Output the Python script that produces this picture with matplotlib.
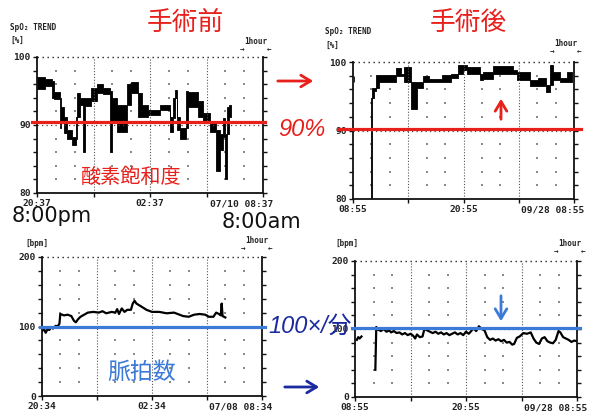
import numpy as np
import matplotlib
matplotlib.use("Agg")
import matplotlib.pyplot as plt
from matplotlib.patches import FancyArrowPatch
from matplotlib.transforms import ScaledTranslation

# ---------------- data ----------------
# SpO2 before surgery (hours from 20:37), per-interval high / low envelope (%)
pre_spo2_edges = [0, 0.42, 0.8, 0.92, 1.2, 1.28, 1.42, 1.6, 1.87, 2.05, 2.14, 2.3, 2.45,
                  2.55, 2.85, 3.2, 3.5, 3.9, 4.0, 4.25, 4.8, 4.98, 5.35, 5.6, 5.9, 6.53,
                  7.06, 7.24, 7.33, 7.45, 7.6, 7.9, 8.03, 8.56, 8.82, 9.18, 9.53, 9.7,
                  9.88, 9.98, 10.08, 10.22, 10.32]
pre_spo2_hi = [97.0, 96.8, 96.5, 94.8, 94.0, 92.7, 91.2, 89.2, 88.2, 91.2, 94.7, 94.0,
               94.0, 94.0, 95.5, 96.0, 95.5, 95.0, 94.0, 93.0, 96.0, 96.3, 94.7, 93.0,
               92.2, 93.0, 91.2, 94.0, 95.1, 91.2, 89.6, 95.0, 94.8, 93.6, 91.8, 90.6,
               89.2, 88.7, 91.0, 88.7, 92.7, 93.0]
pre_spo2_lo = [95.3, 95.8, 94.0, 93.8, 89.5, 90.4, 88.8, 88.0, 87.0, 88.0, 91.2, 93.0,
               86.0, 92.8, 93.6, 94.7, 94.5, 86.0, 90.4, 89.0, 93.0, 94.7, 91.2, 91.2,
               91.5, 92.2, 89.0, 91.0, 94.0, 89.2, 88.0, 89.6, 92.7, 91.2, 90.4, 89.0,
               83.3, 86.3, 88.2, 82.0, 88.7, 91.2]

# SpO2 after surgery (hours from 08:55)
post_spo2_edges = [0.14, 0.58, 1.95, 2.1, 2.3, 2.5, 2.86, 4.65, 5.2, 5.55, 6.27, 6.9, 7.55,
                   8.3, 9.7, 10.6, 11.35, 11.9, 12.35, 13.8, 14.15, 15.2, 17.4, 17.8,
                   19.2, 20.1, 21.0, 21.4, 21.7, 22.5, 23.2, 23.75]
post_spo2_hi = [97.9, np.nan, 94.7, 96.2, 96.2, 98.1, 98.1, 99.1, 98.2, 99.3, 97.1, 97.1,
                97.9, 97.5, 98.1, 98.3, 99.5, 99.5, 99.2, 98.3, 98.6, 99.4, 98.9, 98.6,
                97.4, 97.6, 96.7, 99.5, 98.6, 97.6, 98.6]
post_spo2_lo = [97.1, np.nan, 80.0, 94.7, 95.8, 96.2, 97.1, 97.9, 97.9, 97.1, 93.2, 96.2,
                97.1, 97.1, 97.1, 97.6, 98.3, 98.9, 98.3, 97.4, 97.5, 98.3, 98.3, 97.4,
                96.5, 96.5, 95.6, 96.7, 97.4, 97.1, 97.1]

# Pulse before surgery (hours from 20:34, bpm)
pre_hr_t = [0, 0.1, 0.2, 0.3, 0.4, 0.5, 0.6, 0.75, 0.85, 0.95, 1.0, 1.2, 1.4, 1.6, 1.75,
            1.85, 1.95, 2.1, 2.3, 2.5, 2.8, 3.1, 3.3, 3.5, 3.8, 4.0, 4.1, 4.2, 4.35, 4.5,
            4.65, 4.85, 4.95, 5.05, 5.15, 5.4, 5.7, 6.0, 6.4, 6.8, 7.2, 7.5, 7.7, 8.0,
            8.3, 8.6, 8.9, 9.1, 9.35, 9.5, 9.65, 9.75, 9.8, 9.85, 10.0]
pre_hr = [93, 97, 91, 96, 95, 99, 97, 101, 100, 104, 118, 116, 117, 115, 108, 106, 110,
          114, 117, 120, 121, 120, 122, 119, 121, 120, 125, 118, 126, 121, 124, 124, 133,
          137, 133, 129, 124, 121, 121, 119, 120, 117, 115, 114, 117, 118, 117, 114, 114,
          120, 118, 116, 133, 115, 113]

# Pulse after surgery (hours from 08:55, bpm)
post_hr_t = [0.2, 0.35, 0.5, 0.7, 1.5, 2.2, 2.3, 2.5, 2.8, 3.1, 3.4, 3.7, 3.9, 4.2, 4.5,
             4.8, 5.1, 5.4, 5.7, 6.0, 6.3, 6.5, 6.7, 7.0, 7.3, 7.5, 7.8, 8.1, 8.4, 8.7,
             9.0, 9.3, 9.6, 9.9, 10.2, 10.5, 10.8, 11.1, 11.4, 11.7, 12.0, 12.3, 12.5,
             12.8, 13.1, 13.4, 13.7, 14.0, 14.3, 14.6, 14.9, 15.2, 15.5, 15.8, 16.1,
             16.4, 16.7, 17.0, 17.2, 17.5, 17.8, 18.2, 18.6, 19.0, 19.3, 19.6, 19.9,
             20.2, 20.5, 20.8, 21.1, 21.4, 21.7, 22.0, 22.2, 22.5, 22.8, 23.1, 23.4,
             23.7, 24.0]
post_hr = [84, 88, 86, 89, np.nan, 40, 103, 99, 97, 100, 96, 98, 95, 97, 94, 95, 92, 94,
           91, 93, 90, 86, 92, 88, 89, 100, 98, 96, 94, 96, 93, 95, 92, 94, 91, 93, 95,
           92, 94, 91, 96, 93, 96, 101, 97, 104, 100, 98, 88, 84, 86, 83, 85, 82, 84,
           80, 81, 77, 78, 87, 89, 94, 93, 95, 86, 80, 78, 86, 88, 82, 80, 79, 84, 97,
           95, 88, 86, 84, 81, 83, 82]

spo2_ref = [90.4, 90.2]      # red reference lines (%)
hr_ref = [100, 101.5]        # blue reference lines (bpm)

pre_spo2_xlabels = ["20:37", "02:37", "07/10 08:37"]
post_spo2_xlabels = ["08:55", "20:55", "09/28 08:55"]
pre_hr_xlabels = ["20:34", "02:34", "07/08 08:34"]
post_hr_xlabels = ["08:55", "20:55", "09/28 08:55"]
spo2_ylabels = ["80", "90", "100"]
hr_ylabels = ["0", "100", "200"]

# ---------------- figure ----------------
W, H = 592, 417
fig = plt.figure(figsize=(W / 100, H / 100), dpi=100)
fig.patch.set_facecolor("white")

def fpos(x, y):
    return (x / W, 1 - y / H)

def make_ax(x0, y0, x1, y1):
    return fig.add_axes([x0 / W, 1 - y1 / H, (x1 - x0) / W, (y1 - y0) / H])

MONO = "DejaVu Sans Mono"
RED = "#e8201c"
BLUE = "#3c7ad8"
NAVY = "#1b2a9e"

def style(ax, span, ymin, ymax, ystep, ylabels, xlabels):
    ax.set_xlim(0, span)
    ax.set_ylim(ymin, ymax)
    ax.set_facecolor("white")
    for s in ("left", "bottom", "right"):
        ax.spines[s].set_linewidth(1.3)
        ax.spines[s].set_color("#111111")
    ax.spines["top"].set_visible(False)
    ax.axhline(ymax, color="#222222", lw=1.0, ls=(0, (1, 2.6)), clip_on=False)
    ax.axhline((ymin + ymax) / 2, color="#444444", lw=0.9, ls=(0, (1, 2.6)))
    q = span / 4
    for k in (1, 2, 3):
        ax.axvline(k * q, color="#555555", lw=0.8, ls=(0, (1, 1.6)))
    hstep = span / 12
    xs = [i * hstep for i in range(1, 12) if i % 3 != 0]
    ys = [v for v in np.arange(ymin + ystep, ymax, ystep) if abs(v - (ymin + ymax) / 2) > 1e-6]
    gx, gy = np.meshgrid(xs, ys)
    ax.scatter(gx.ravel(), gy.ravel(), s=1.6, color="#8a8a8a", marker="s", lw=0)
    ax.set_xticks([0, q, 2 * q, 3 * q, span])
    ax.set_xticklabels([xlabels[0], "", xlabels[1], "", xlabels[2]])
    yt = np.arange(ymin, ymax + ystep / 2, ystep)
    ax.set_yticks(yt)
    lab = []
    for v in yt:
        if abs(v - ymin) < 1e-6:
            lab.append(ylabels[0])
        elif abs(v - (ymin + ymax) / 2) < 1e-6:
            lab.append(ylabels[1])
        elif abs(v - ymax) < 1e-6:
            lab.append(ylabels[2])
        else:
            lab.append("")
    ax.set_yticklabels(lab)
    ax.tick_params(axis="both", direction="out", length=3, width=1.0, color="#111111",
                   pad=1.5, labelsize=6.8, labelcolor="#222222")
    ax.tick_params(axis="y", right=True, labelright=False)
    for t in ax.get_xticklabels() + ax.get_yticklabels():
        t.set_fontfamily(MONO)
        t.set_fontweight("bold")
    last = ax.get_xticklabels()[-1]
    last.set_horizontalalignment("right")
    last.set_transform(last.get_transform() + ScaledTranslation(10 / 100, 0, fig.dpi_scale_trans))

def envelope(ax, edges, hi, lo):
    e = np.array(edges, dtype=float)
    h = np.append(np.array(hi, dtype=float), hi[-1])
    l = np.append(np.array(lo, dtype=float), lo[-1])
    ax.fill_between(e, l, h, step="post", color="black", lw=0.6, edgecolor="black")

# Top-left: SpO2 before
ax1 = make_ax(37, 57, 263, 193)
style(ax1, 12, 80, 100, 2, spo2_ylabels, pre_spo2_xlabels)
envelope(ax1, pre_spo2_edges, pre_spo2_hi, pre_spo2_lo)
ax1.axhline(spo2_ref[0], xmin=-0.02, xmax=1.01, color=RED, lw=2.3, clip_on=False, zorder=5)

# Top-right: SpO2 after
ax2 = make_ax(353, 62, 574, 199)
style(ax2, 24, 80, 100, 2, spo2_ylabels, post_spo2_xlabels)
envelope(ax2, post_spo2_edges, post_spo2_hi, post_spo2_lo)
ax2.axhline(spo2_ref[1], xmin=-0.07, xmax=1.03, color=RED, lw=2.3, clip_on=False, zorder=5)

# Bottom-left: pulse before
ax3 = make_ax(42, 257, 262, 396)
style(ax3, 12, 0, 200, 20, hr_ylabels, pre_hr_xlabels)
ax3.plot(pre_hr_t, pre_hr, color="black", lw=1.6)
ax3.axhline(hr_ref[0], xmin=-0.01, xmax=1.015, color=BLUE, lw=2.3, clip_on=False, zorder=5)

# Bottom-right: pulse after
ax4 = make_ax(355, 261, 577, 397)
style(ax4, 24, 0, 200, 20, hr_ylabels, post_hr_xlabels)
ax4.plot(post_hr_t, post_hr, color="black", lw=1.6)
ax4.axhline(hr_ref[1], xmin=-0.014, xmax=1.014, color=BLUE, lw=2.3, clip_on=False, zorder=5)

# ---------------- annotations ----------------
CJK = ["Noto Sans CJK JP", "DejaVu Sans"]
fig.text(*fpos(185, 23), "手術前", color=RED, fontsize=18.5, family=CJK, ha="center", va="center")
fig.text(*fpos(468, 23), "手術後", color=RED, fontsize=18.5, family=CJK, ha="center", va="center")
fig.text(*fpos(131, 177), "酸素飽和度", color=RED, fontsize=14.5, family=CJK, ha="center", va="center")
fig.text(*fpos(142, 372), "脈拍数", color=BLUE, fontsize=16.5, family=CJK, ha="center", va="center")
fig.text(*fpos(302, 130), "90%", color=RED, fontsize=17, style="italic",
         family=["Liberation Sans", "DejaVu Sans"], ha="center", va="center")
fig.text(*fpos(310, 326), "100×/分", color=NAVY, fontsize=17, style="italic",
         family=["Liberation Sans", "Noto Sans CJK JP"], ha="center", va="center", zorder=10)
fig.text(*fpos(12, 216), "8:00pm", color="#111111", fontsize=15, family="DejaVu Sans",
         ha="left", va="center")
fig.text(*fpos(222, 222), "8:00am", color="#111111", fontsize=15, family="DejaVu Sans",
         ha="left", va="center")

small = dict(family=MONO, fontsize=5.5, fontweight="bold", color="#222222", va="center")
fig.text(*fpos(10, 27), "SpO₂ TREND", ha="left", **small)
fig.text(*fpos(10, 40), "[%]", ha="left", **small)
fig.text(*fpos(325, 32), "SpO₂ TREND", ha="left", **small)
fig.text(*fpos(325, 45), "[%]", ha="left", **small)
fig.text(*fpos(25, 243), "[bpm]", ha="left", **small)
fig.text(*fpos(335, 244), "[bpm]", ha="left", **small)
for cx, cy in [(256, 42), (566, 44), (257, 241), (570, 244)]:
    fig.text(*fpos(cx, cy), "1hour", ha="center", **small)
    fig.text(*fpos(cx - 14, cy + 8), "→", ha="center", **small)
    fig.text(*fpos(cx + 13, cy + 8), "←", ha="center", **small)

def arrow(p0, p1, color):
    a = FancyArrowPatch(fpos(*p0), fpos(*p1), transform=fig.transFigure,
                        arrowstyle="->,head_length=0.5,head_width=0.3",
                        mutation_scale=14, color=color, lw=2.0)
    fig.add_artist(a)

arrow((275, 81), (316, 81), RED)
arrow((282, 387), (322, 387), NAVY)
arrow((501, 122), (501, 96), RED)
arrow((501, 293), (501, 324), BLUE)

fig.savefig("out.png", dpi=100, facecolor="white")
